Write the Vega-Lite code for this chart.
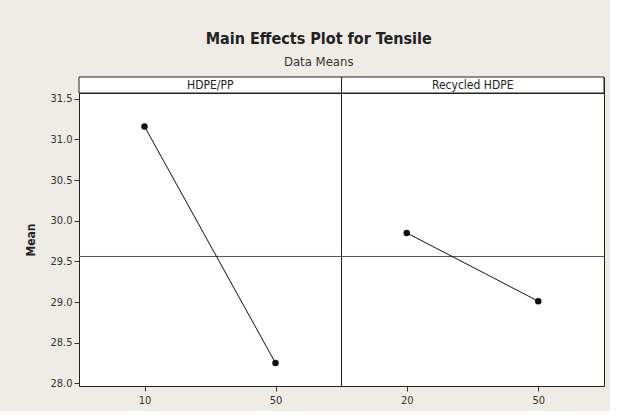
{
  "$schema": "https://vega.github.io/schema/vega-lite/v6.json",
  "background": "#EFEBE5",
  "padding": {"left": 24, "top": 31, "right": 5, "bottom": 5},
  "title": {
    "text": "Main Effects Plot for Tensile",
    "subtitle": "Data Means",
    "anchor": "middle",
    "dx": 4,
    "font": "DejaVu Sans Condensed, Liberation Sans",
    "fontSize": 16,
    "fontWeight": "bold",
    "color": "#222222",
    "subtitleFont": "DejaVu Sans Condensed, Liberation Sans",
    "subtitleFontSize": 13,
    "subtitleColor": "#333333",
    "subtitlePadding": 9,
    "offset": 7
  },
  "datasets": {
    "means": [
      {"factor": "HDPE/PP", "level": 10, "mean": 31.16},
      {"factor": "HDPE/PP", "level": 50, "mean": 28.25},
      {"factor": "Recycled HDPE", "level": 20, "mean": 29.85},
      {"factor": "Recycled HDPE", "level": 50, "mean": 29.01}
    ],
    "factors": [
      {"factor": "HDPE/PP"},
      {"factor": "Recycled HDPE"}
    ],
    "grand": [
      {"mean": 29.56}
    ]
  },
  "spacing": 0,
  "bounds": "flush",
  "vconcat": [
    {
      "width": 525,
      "height": 16,
      "data": {"name": "factors"},
      "encoding": {
        "x": {"field": "factor", "type": "nominal", "sort": null, "scale": {"type": "band", "paddingInner": 0, "paddingOuter": 0}, "axis": null}
      },
      "layer": [
        {"mark": {"type": "rect", "fill": "white", "stroke": "#222222", "strokeWidth": 1}},
        {"mark": {"type": "text", "font": "DejaVu Sans Condensed, Liberation Sans", "fontSize": 12, "color": "#222222", "baseline": "middle", "align": "center"},
         "encoding": {"text": {"field": "factor"}}}
      ]
    },
    {
      "spacing": 0,
      "bounds": "flush",
      "hconcat": [
        {
          "width": 262,
          "height": 293,
          "layer": [
            {
              "data": {"name": "grand"},
              "mark": {"type": "rule", "color": "#555555", "strokeWidth": 1},
              "encoding": {
                "y": {"field": "mean", "type": "quantitative", "scale": {"domain": [27.967, 31.571], "nice": false, "zero": false},
                  "axis": {"title": "Mean", "values": [28, 28.5, 29, 29.5, 30, 30.5, 31, 31.5], "format": ".1f", "grid": false, "domain": false,
                    "tickSize": 5, "tickColor": "#333333", "labelFont": "DejaVu Sans Condensed, Liberation Sans", "labelFontSize": 11, "labelColor": "#333333", "labelPadding": 2,
                    "titleFont": "DejaVu Sans Condensed, Liberation Sans", "titleFontSize": 12, "titleFontWeight": "bold", "titleColor": "#222222", "titlePadding": 12}}
              }
            },
            {
              "data": {"name": "means"},
              "transform": [{"filter": "datum.factor === 'HDPE/PP'"}],
              "layer": [
                {"mark": {"type": "line", "color": "#111111", "strokeWidth": 1}},
                {"mark": {"type": "point", "filled": true, "size": 42, "color": "#111111", "opacity": 1}}
              ],
              "encoding": {
                "x": {"field": "level", "type": "ordinal", "scale": {"type": "point", "padding": 0.5},
                  "axis": {"title": null, "labelAngle": 0, "domain": false, "tickSize": 5, "tickColor": "#333333", "labelFont": "DejaVu Sans Condensed, Liberation Sans", "labelFontSize": 11, "labelColor": "#333333", "labelPadding": 3}},
                "y": {"field": "mean", "type": "quantitative", "scale": {"domain": [27.967, 31.571], "nice": false, "zero": false}}
              }
            }
          ]
        },
        {
          "width": 263,
          "height": 293,
          "layer": [
            {
              "data": {"name": "grand"},
              "mark": {"type": "rule", "color": "#555555", "strokeWidth": 1},
              "encoding": {
                "y": {"field": "mean", "type": "quantitative", "scale": {"domain": [27.967, 31.571], "nice": false, "zero": false}, "axis": null}
              }
            },
            {
              "data": {"name": "means"},
              "transform": [{"filter": "datum.factor === 'Recycled HDPE'"}],
              "layer": [
                {"mark": {"type": "line", "color": "#111111", "strokeWidth": 1}},
                {"mark": {"type": "point", "filled": true, "size": 42, "color": "#111111", "opacity": 1}}
              ],
              "encoding": {
                "x": {"field": "level", "type": "ordinal", "scale": {"type": "point", "padding": 0.5},
                  "axis": {"title": null, "labelAngle": 0, "domain": false, "tickSize": 5, "tickColor": "#333333", "labelFont": "DejaVu Sans Condensed, Liberation Sans", "labelFontSize": 11, "labelColor": "#333333", "labelPadding": 3}},
                "y": {"field": "mean", "type": "quantitative", "scale": {"domain": [27.967, 31.571], "nice": false, "zero": false}, "axis": null}
              }
            }
          ]
        }
      ]
    }
  ],
  "config": {
    "view": {"stroke": "#222222", "strokeWidth": 1, "fill": "white"}
  }
}
